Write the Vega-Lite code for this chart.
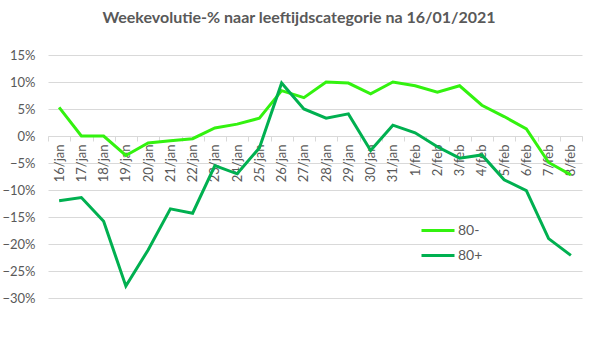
{
  "$schema": "https://vega.github.io/schema/vega-lite/v6.json",
  "width": 534,
  "height": 243,
  "autosize": "none",
  "padding": {"left": 48, "top": 55, "right": 17, "bottom": 61},
  "background": "white",
  "title": {
    "text": "Weekevolutie-% naar leeftijdscategorie  na 16/01/2021",
    "font": "Lato",
    "fontSize": 16,
    "fontWeight": "bold",
    "color": "#595959",
    "anchor": "middle",
    "dx": -16,
    "offset": 23
  },
  "config": {
    "view": {"stroke": null},
    "font": "Lato"
  },
  "data": {
    "values": [
      {"date": "16/jan", "groep": "80-", "v": 0.053},
      {"date": "17/jan", "groep": "80-", "v": 0.0},
      {"date": "18/jan", "groep": "80-", "v": 0.0},
      {"date": "19/jan", "groep": "80-", "v": -0.036},
      {"date": "20/jan", "groep": "80-", "v": -0.013},
      {"date": "21/jan", "groep": "80-", "v": -0.009},
      {"date": "22/jan", "groep": "80-", "v": -0.005},
      {"date": "23/jan", "groep": "80-", "v": 0.015},
      {"date": "24/jan", "groep": "80-", "v": 0.022},
      {"date": "25/jan", "groep": "80-", "v": 0.033},
      {"date": "26/jan", "groep": "80-", "v": 0.084},
      {"date": "27/jan", "groep": "80-", "v": 0.071},
      {"date": "28/jan", "groep": "80-", "v": 0.100},
      {"date": "29/jan", "groep": "80-", "v": 0.098},
      {"date": "30/jan", "groep": "80-", "v": 0.078},
      {"date": "31/jan", "groep": "80-", "v": 0.100},
      {"date": "1/feb", "groep": "80-", "v": 0.093},
      {"date": "2/feb", "groep": "80-", "v": 0.081},
      {"date": "3/feb", "groep": "80-", "v": 0.093},
      {"date": "4/feb", "groep": "80-", "v": 0.057},
      {"date": "5/feb", "groep": "80-", "v": 0.036},
      {"date": "6/feb", "groep": "80-", "v": 0.013},
      {"date": "7/feb", "groep": "80-", "v": -0.049},
      {"date": "8/feb", "groep": "80-", "v": -0.072},
      {"date": "16/jan", "groep": "80+", "v": -0.120},
      {"date": "17/jan", "groep": "80+", "v": -0.114},
      {"date": "18/jan", "groep": "80+", "v": -0.158},
      {"date": "19/jan", "groep": "80+", "v": -0.278},
      {"date": "20/jan", "groep": "80+", "v": -0.211},
      {"date": "21/jan", "groep": "80+", "v": -0.135},
      {"date": "22/jan", "groep": "80+", "v": -0.143},
      {"date": "23/jan", "groep": "80+", "v": -0.055},
      {"date": "24/jan", "groep": "80+", "v": -0.070},
      {"date": "25/jan", "groep": "80+", "v": -0.022},
      {"date": "26/jan", "groep": "80+", "v": 0.098},
      {"date": "27/jan", "groep": "80+", "v": 0.050},
      {"date": "28/jan", "groep": "80+", "v": 0.033},
      {"date": "29/jan", "groep": "80+", "v": 0.041},
      {"date": "30/jan", "groep": "80+", "v": -0.027},
      {"date": "31/jan", "groep": "80+", "v": 0.020},
      {"date": "1/feb", "groep": "80+", "v": 0.006},
      {"date": "2/feb", "groep": "80+", "v": -0.020},
      {"date": "3/feb", "groep": "80+", "v": -0.041},
      {"date": "4/feb", "groep": "80+", "v": -0.035},
      {"date": "5/feb", "groep": "80+", "v": -0.081},
      {"date": "6/feb", "groep": "80+", "v": -0.101},
      {"date": "7/feb", "groep": "80+", "v": -0.190},
      {"date": "8/feb", "groep": "80+", "v": -0.221}
    ]
  },
  "mark": {"type": "line", "strokeWidth": 3, "strokeJoin": "miter"},
  "encoding": {
    "x": {
      "field": "date",
      "type": "ordinal",
      "sort": null,
      "bandPosition": 0.5,
      "scale": {"type": "band", "paddingInner": 0, "paddingOuter": 0},
      "axis": {
        "title": null,
        "offset": -162,
        "labelAngle": -90,
        "labelAlign": "right",
        "labelBaseline": "middle",
        "labelFont": "Lato",
        "labelFontSize": 13,
        "labelColor": "#595959",
        "labelPadding": 3,
        "tickBand": "extent",
        "tickColor": "#d9d9d9",
        "tickSize": 5,
        "domainColor": "#d9d9d9",
        "grid": false
      }
    },
    "y": {
      "field": "v",
      "type": "quantitative",
      "scale": {"domain": [-0.30, 0.15], "nice": false, "zero": false},
      "axis": {
        "title": null,
        "format": ".0%",
        "values": [-0.30, -0.25, -0.20, -0.15, -0.10, -0.05, 0, 0.05, 0.10, 0.15],
        "domain": false,
        "ticks": false,
        "labelFont": "Lato",
        "labelFontSize": 13,
        "labelColor": "#595959",
        "labelPadding": 13,
        "gridColor": "#d9d9d9",
        "gridWidth": 1
      }
    },
    "color": {
      "field": "groep",
      "type": "nominal",
      "scale": {"domain": ["80-", "80+"], "range": ["#33F20F", "#00B050"]},
      "legend": {
        "title": null,
        "orient": "none",
        "legendX": 372,
        "legendY": 163,
        "symbolType": "stroke",
        "symbolSize": 1089,
        "symbolStrokeWidth": 3,
        "clipHeight": 25,
        "rowPadding": 0,
        "labelFont": "Lato",
        "labelFontSize": 14,
        "labelColor": "#595959",
        "labelOffset": 2
      }
    }
  }
}
